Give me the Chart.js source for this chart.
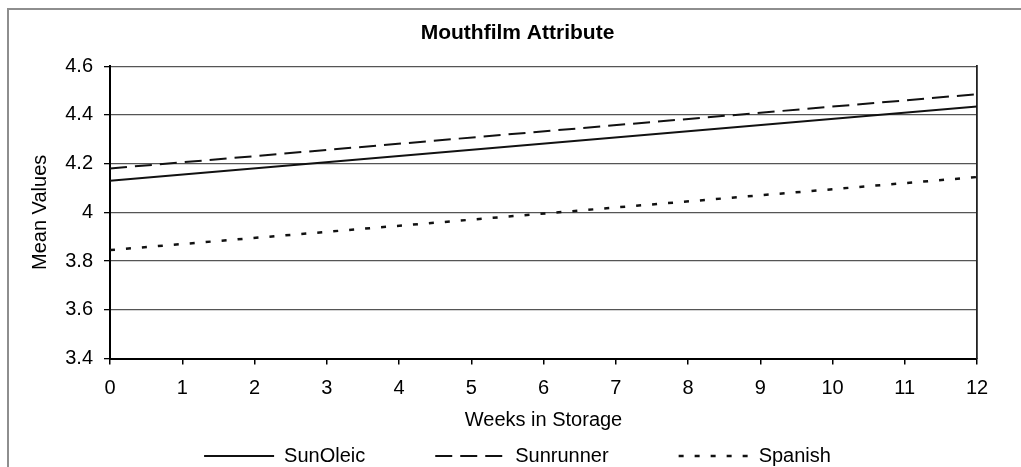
<!DOCTYPE html>
<html>
<head>
<meta charset="utf-8">
<title>Mouthfilm Attribute</title>
<script src="https://cdn.jsdelivr.net/npm/chart.js@4/dist/chart.umd.min.js"></script>
<style>
  html, body { margin: 0; padding: 0; background: #fff; overflow: hidden; }
  #wrap { position: relative; width: 1021px; height: 467px; }
  /* outer chart frame (only its top and left edges fall inside the page) */
  #frame {
    position: absolute; left: 7px; top: 8px; width: 1200px; height: 700px;
    border-left: 2px solid #8e8e8e; border-top: 2px solid #8e8e8e;
    pointer-events: none;
  }
</style>
</head>
<body>
<div id="wrap">
  <canvas id="chart" width="1021" height="467"></canvas>
  <div id="frame"></div>
</div>
<script>
// Weeks at which each trend line is given
const weeks = [0, 12];

// Mean sensory scores per cultivar
const sunOleic  = [4.13, 4.435];
const sunrunner = [4.18, 4.485];
const spanish   = [3.845, 4.145];

// Axis tick labels
const xTickLabels = ['0', '1', '2', '3', '4', '5', '6', '7', '8', '9', '10', '11', '12'];
const yTickLabels = ['3.4', '3.6', '3.8', '4', '4.2', '4.4', '4.6'];

const FONT = "'Liberation Sans', Arial, sans-serif";
Chart.defaults.font.family = FONT;
Chart.defaults.color = '#000';

const toPoints = ys => weeks.map((w, i) => ({ x: w, y: ys[i] }));

const lineStyle = {
  borderColor: '#111',
  backgroundColor: '#111',
  borderWidth: 2,
  pointRadius: 0,
  pointHoverRadius: 0,
  pointStyle: 'line',
  fill: false,
  tension: 0,
  borderCapStyle: 'butt'
};

// legend keys: a line segment carrying each dataset's own dash pattern
const defaultLabels = Chart.defaults.plugins.legend.labels.generateLabels;
function lineKeys(chart) {
  return defaultLabels(chart).map(item => {
    const ds = chart.data.datasets[item.datasetIndex];
    item.pointStyle = 'line';
    item.lineDash = ds.borderDash || [];
    item.lineWidth = ds.borderWidth;
    item.strokeStyle = ds.borderColor;
    return item;
  });
}

// the legend's label padding also spaces the entries apart; pull its box up
// so the wide spacing does not push the row down
const legendLift = {
  id: 'legendLift',
  afterLayout(chart) {
    if (chart.legend) chart.legend.top -= 26.5;
  }
};

new Chart(document.getElementById('chart'), {
  type: 'line',
  data: {
    datasets: [
      Object.assign({}, lineStyle, { label: 'SunOleic',  data: toPoints(sunOleic),  borderDash: [] }),
      Object.assign({}, lineStyle, { label: 'Sunrunner', data: toPoints(sunrunner), borderDash: [17, 8] }),
      Object.assign({}, lineStyle, { label: 'Spanish',   data: toPoints(spanish),   borderDash: [5, 11], borderWidth: 2.5 })
    ]
  },
  plugins: [legendLift],
  options: {
    responsive: false,
    animation: false,
    devicePixelRatio: 1,
    layout: { padding: { top: 10, left: 14, right: 0, bottom: 0 } },
    plugins: {
      title: {
        display: true,
        text: 'Mouthfilm Attribute',
        color: '#000',
        font: { size: 21, weight: 'bold' },
        padding: { top: 11, bottom: 20 }
      },
      legend: {
        position: 'bottom',
        maxHeight: 64.5,
        labels: {
          usePointStyle: true,
          pointStyleWidth: 70,
          padding: 70,
          color: '#000',
          font: { size: 20 },
          generateLabels: lineKeys
        }
      },
      tooltip: { enabled: false }
    },
    scales: {
      x: {
        type: 'linear',
        min: 0,
        max: 12,
        afterFit: s => { s.height = 44; },
        ticks: {
          stepSize: 1,
          padding: 12,
          font: { size: 20 },
          callback: (v, i) => xTickLabels[i]
        },
        grid: { drawOnChartArea: false, drawTicks: true, tickLength: 6, color: '#000', lineWidth: 1.5 },
        border: { color: '#000', width: 2 },
        title: {
          display: true,
          text: 'Weeks in Storage',
          font: { size: 20 },
          padding: { top: 0, bottom: -29.5 }
        }
      },
      y: {
        min: 3.4,
        max: 4.6,
        afterFit: s => { s.width = 96; },
        ticks: {
          stepSize: 0.2,
          padding: 11,
          font: { size: 20 },
          callback: (v, i) => yTickLabels[i]
        },
        grid: { color: '#555', lineWidth: 1.3, tickLength: 6, tickColor: '#000' },
        border: { color: '#000', width: 2 },
        title: {
          display: true,
          text: 'Mean Values',
          font: { size: 20 },
          padding: { top: 14, bottom: 0 }
        }
      },
      // right edge of the plot area
      y2: {
        position: 'right',
        min: 0,
        max: 1,
        afterFit: s => { s.width = 44; },
        ticks: { display: false },
        grid: { display: false },
        border: { display: true, color: '#222', width: 1.8 }
      }
    }
  }
});
</script>
</body>
</html>
